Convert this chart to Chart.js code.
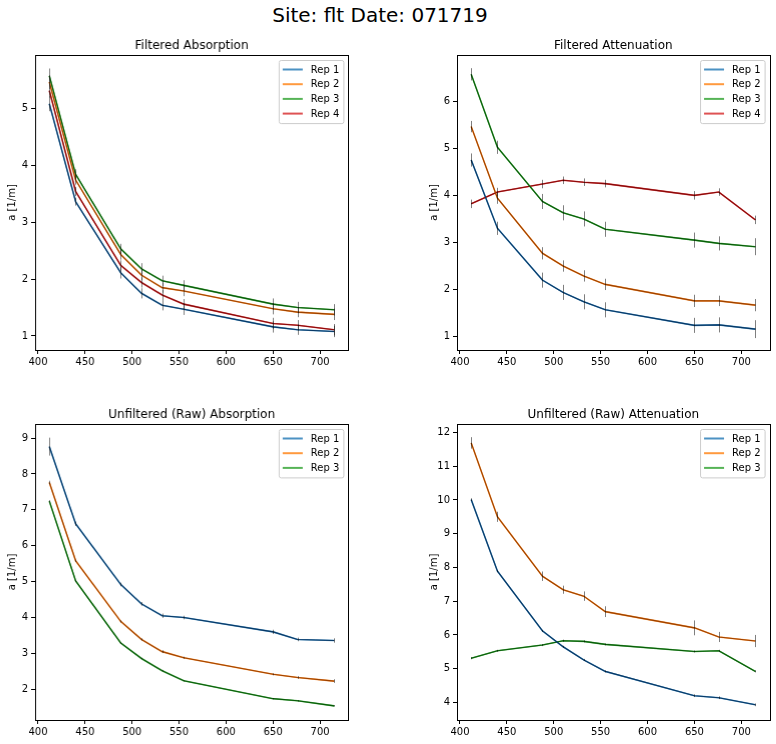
<!DOCTYPE html>
<html>
<head>
<meta charset="utf-8">
<script src="https://cdn.jsdelivr.net/npm/chart.js@4.4.1/dist/chart.umd.min.js"></script>
<style>
  html, body { margin:0; padding:0; background:#fff; }
  body { width:776px; height:744px; position:relative; overflow:hidden; font-family:"DejaVu Sans", sans-serif; }
  #suptitle { position:absolute; left:0; top:2px; width:760px; text-align:center; font-size:20px; line-height:26px; color:#000; }
  .box { position:absolute; }
</style>
</head>
<body>
<div id="suptitle">Site: flt Date: 071719</div>
<div class="box" id="b1"><canvas id="c1"></canvas></div>
<div class="box" id="b2"><canvas id="c2"></canvas></div>
<div class="box" id="b3"><canvas id="c3"></canvas></div>
<div class="box" id="b4"><canvas id="c4"></canvas></div>
<script>
// ---------- data ----------
const wavelengths = [412, 440, 488, 510, 532, 555, 650, 676, 715];
const xTicks = [400, 450, 500, 550, 600, 650, 700];
const repLabels = ['Rep 1', 'Rep 2', 'Rep 3', 'Rep 4'];

// Filtered Absorption
const faRep1 = [5.08, 3.36, 2.11, 1.75, 1.54, 1.47, 1.16, 1.11, 1.08];
const faRep2 = [5.46, 3.74, 2.43, 2.07, 1.85, 1.79, 1.48, 1.42, 1.38];
const faRep3 = [5.57, 3.84, 2.53, 2.18, 1.97, 1.89, 1.56, 1.50, 1.46];
const faRep4 = [5.31, 3.54, 2.24, 1.94, 1.72, 1.56, 1.22, 1.19, 1.11];
const faErr1 = [0.13, 0.07, 0.10, 0.09, 0.09, 0.10, 0.10, 0.09, 0.10];
const faErr2 = [0.12, 0.08, 0.09, 0.09, 0.09, 0.09, 0.10, 0.09, 0.10];
const faErr3 = [0.13, 0.09, 0.09, 0.10, 0.09, 0.09, 0.10, 0.10, 0.10];
const faErr4 = [0.12, 0.08, 0.09, 0.09, 0.09, 0.09, 0.10, 0.09, 0.10];
const faTicks = [1, 2, 3, 4, 5];

// Filtered Attenuation
const fcRep1 = [4.75, 3.30, 2.20, 1.94, 1.74, 1.57, 1.24, 1.25, 1.16];
const fcRep2 = [5.46, 3.94, 2.77, 2.50, 2.29, 2.11, 1.76, 1.76, 1.67];
const fcRep3 = [6.57, 5.02, 3.87, 3.63, 3.50, 3.28, 3.05, 2.98, 2.91];
const fcRep4 = [3.82, 4.07, 4.24, 4.32, 4.28, 4.25, 4.00, 4.07, 3.48];
const fcErr1 = [0.14, 0.14, 0.16, 0.16, 0.16, 0.16, 0.16, 0.16, 0.19];
const fcErr2 = [0.12, 0.12, 0.13, 0.12, 0.12, 0.12, 0.13, 0.11, 0.13];
const fcErr3 = [0.13, 0.14, 0.16, 0.16, 0.16, 0.16, 0.16, 0.15, 0.18];
const fcErr4 = [0.09, 0.09, 0.09, 0.08, 0.08, 0.08, 0.09, 0.08, 0.09];
const fcTicks = [1, 2, 3, 4, 5, 6];

// Unfiltered (Raw) Absorption
const raRep1 = [8.76, 6.61, 4.92, 4.38, 4.05, 4.00, 3.60, 3.39, 3.36];
const raRep2 = [7.76, 5.58, 3.89, 3.39, 3.05, 2.88, 2.42, 2.33, 2.23];
const raRep3 = [7.24, 5.02, 3.29, 2.86, 2.52, 2.24, 1.74, 1.68, 1.54];
const raErr1 = [0.25, 0.06, 0.05, 0.05, 0.06, 0.05, 0.06, 0.05, 0.06];
const raErr2 = [0.05, 0.03, 0.03, 0.03, 0.04, 0.03, 0.03, 0.04, 0.05];
const raErr3 = [0.03, 0.02, 0.02, 0.02, 0.02, 0.02, 0.02, 0.02, 0.02];
const raTicks = [2, 3, 4, 5, 6, 7, 8, 9];

// Unfiltered (Raw) Attenuation
const rcRep1 = [10.01, 7.89, 6.12, 5.65, 5.26, 4.92, 4.20, 4.14, 3.93];
const rcRep2 = [11.69, 9.50, 7.74, 7.34, 7.15, 6.69, 6.21, 5.94, 5.82];
const rcRep3 = [5.31, 5.53, 5.70, 5.83, 5.81, 5.72, 5.51, 5.53, 4.92];
const rcErr1 = [0.04, 0.03, 0.03, 0.03, 0.03, 0.03, 0.04, 0.04, 0.04];
const rcErr2 = [0.17, 0.15, 0.14, 0.12, 0.14, 0.16, 0.22, 0.15, 0.18];
const rcErr3 = [0.03, 0.03, 0.03, 0.03, 0.03, 0.03, 0.03, 0.03, 0.03];
const rcTicks = [4, 5, 6, 7, 8, 9, 10, 11, 12];

// ---------- styling ----------
const repColors = ['rgba(31,119,180,0.8)', 'rgba(255,127,14,0.8)', 'rgba(44,160,44,0.8)', 'rgba(214,39,40,0.8)'];
const darkColors = ['rgba(8,55,100,1)', 'rgba(155,65,0,1)', 'rgba(8,90,8,1)', 'rgba(135,8,8,1)'];
const FONT = '"DejaVu Sans", sans-serif';

const panels = [
  { id: 'c1', box: 'b1', title: 'Filtered Absorption', reps: [faRep1, faRep2, faRep3, faRep4], errs: [faErr1, faErr2, faErr3, faErr4], yTicks: faTicks, ymin: 0.754, ymax: 5.937, ax: [35.3, 55, 347.7, 350] },
  { id: 'c2', box: 'b2', title: 'Filtered Attenuation', reps: [fcRep1, fcRep2, fcRep3, fcRep4], errs: [fcErr1, fcErr2, fcErr3, fcErr4], yTicks: fcTicks, ymin: 0.717, ymax: 6.98, ax: [456.7, 55, 769.3, 350] },
  { id: 'c3', box: 'b3', title: 'Unfiltered (Raw) Absorption', reps: [raRep1, raRep2, raRep3], errs: [raErr1, raErr2, raErr3], yTicks: raTicks, ymin: 1.146, ymax: 9.39, ax: [35.3, 424, 347.7, 720] },
  { id: 'c4', box: 'b4', title: 'Unfiltered (Raw) Attenuation', reps: [rcRep1, rcRep2, rcRep3], errs: [rcErr1, rcErr2, rcErr3], yTicks: rcTicks, ymin: 3.48, ymax: 12.25, ax: [456.7, 424, 769.3, 720] }
];

const Y_W = 29, TITLE_H = 30, X_H = 25, PAD_R = 5;

const framePlugin = {
  id: 'frame',
  afterDatasetsDraw(chart) {
    const ctx = chart.ctx;
    ctx.save();
    ctx.strokeStyle = 'rgba(0,0,0,0.5)';
    ctx.lineWidth = 1;
    const xs = chart.scales.x, ys = chart.scales.y;
    chart.data.datasets.forEach(ds => {
      if (!ds.errors) return;
      ds.data.forEach((p, i) => {
        const e = ds.errors[i];
        const px = Math.round(xs.getPixelForValue(p.x)) + 0.5;
        ctx.beginPath();
        ctx.moveTo(px, ys.getPixelForValue(p.y - e));
        ctx.lineTo(px, ys.getPixelForValue(p.y + e));
        ctx.stroke();
      });
    });
    ctx.restore();
  },
  afterDraw(chart) {
    const a = chart.chartArea, ctx = chart.ctx;
    ctx.save();
    // axes frame
    ctx.strokeStyle = '#000';
    ctx.lineWidth = 1;
    ctx.strokeRect(Math.round(a.left) + 0.5, Math.round(a.top) + 0.5, Math.round(a.right) - Math.round(a.left), Math.round(a.bottom) - Math.round(a.top));
    // subplot title centred over the axes
    ctx.fillStyle = '#000';
    ctx.font = '12px ' + FONT;
    ctx.textAlign = 'center';
    ctx.textBaseline = 'alphabetic';
    ctx.fillText(chart.options.plugins.frame.title, (a.left + a.right) / 2, a.top - 6);
    // legend, upper right
    const items = chart.data.datasets.filter(d => d.errors);
    const n = items.length;
    ctx.font = '10px ' + FONT;
    let tw = 0;
    items.forEach(d => { tw = Math.max(tw, ctx.measureText(d.label).width); });
    const w = 4 + 20 + 8 + tw + 4;
    const rowSp = 14.7;
    const h = 9.5 * 2 + (n - 1) * rowSp;
    const x0 = a.right - 5 - w, y0 = a.top + 5;
    ctx.beginPath();
    if (ctx.roundRect) ctx.roundRect(x0 + 0.5, y0 + 0.5, w, h, 2); else ctx.rect(x0 + 0.5, y0 + 0.5, w, h);
    ctx.fillStyle = 'rgba(255,255,255,0.8)';
    ctx.fill();
    ctx.strokeStyle = '#cccccc';
    ctx.lineWidth = 1;
    ctx.stroke();
    items.forEach((d, i) => {
      const cy = y0 + 9.5 + i * rowSp;
      ctx.strokeStyle = d.borderColor;
      ctx.lineWidth = 2;
      ctx.beginPath();
      ctx.moveTo(x0 + 4, cy);
      ctx.lineTo(x0 + 24, cy);
      ctx.stroke();
      ctx.fillStyle = '#000';
      ctx.textBaseline = 'middle';
      ctx.textAlign = 'left';
      ctx.fillText(d.label, x0 + 32, cy + 0.5);
    });
    ctx.restore();
  }
};

panels.forEach(p => {
  const [l, t, r, b] = p.ax;
  const box = document.getElementById(p.box);
  box.style.left = (l - Y_W) + 'px';
  box.style.top = (t - TITLE_H) + 'px';
  box.style.width = (r - l + Y_W + PAD_R) + 'px';
  box.style.height = (b - t + TITLE_H + X_H) + 'px';

  const datasets = [];
  p.reps.forEach((vals, k) => {
    const pts = wavelengths.map((w, i) => ({ x: w, y: vals[i] }));
    datasets.push({ label: repLabels[k], data: pts, errors: p.errs[k], borderColor: repColors[k], borderWidth: 1.6, pointRadius: 0, tension: 0, fill: false, order: 10 + k });
  });
  p.reps.forEach((vals, k) => {
    const pts = wavelengths.map((w, i) => ({ x: w, y: vals[i] }));
    datasets.push({ label: '_' + repLabels[k], data: pts, borderColor: darkColors[k], borderWidth: 1.1, pointRadius: 0, tension: 0, fill: false, order: k });
  });

  new Chart(document.getElementById(p.id), {
    type: 'line',
    data: { datasets },
    plugins: [framePlugin],
    options: {
      responsive: true,
      maintainAspectRatio: false,
      animation: false,
      layout: { padding: { left: 0, right: PAD_R, top: TITLE_H, bottom: 0 } },
      plugins: {
        legend: { display: false },
        tooltip: { enabled: false },
        title: { display: false },
        frame: { title: p.title }
      },
      scales: {
        x: {
          type: 'linear', min: 396.85, max: 730.15,
          afterBuildTicks: s => { s.ticks = xTicks.map(v => ({ value: v })); },
          afterFit: s => { s.height = X_H; },
          grid: { display: true, drawOnChartArea: false, drawTicks: true, tickLength: 4, color: '#000', lineWidth: 1 },
          border: { display: false },
          ticks: { color: '#000', font: { family: FONT, size: 10 }, padding: 2, maxRotation: 0, autoSkip: false }
        },
        y: {
          type: 'linear', min: p.ymin, max: p.ymax,
          afterBuildTicks: s => { s.ticks = p.yTicks.map(v => ({ value: v })); },
          afterFit: s => { s.width = Y_W; },
          grid: { display: true, drawOnChartArea: false, drawTicks: true, tickLength: 4, color: '#000', lineWidth: 1 },
          border: { display: false },
          title: { display: true, text: 'a [1/m]', color: '#000', font: { family: FONT, size: 10, lineHeight: 1.2 }, padding: 0 },
          ticks: { color: '#000', font: { family: FONT, size: 10 }, padding: 3, autoSkip: false }
        }
      }
    }
  });
});
</script>
</body>
</html>
